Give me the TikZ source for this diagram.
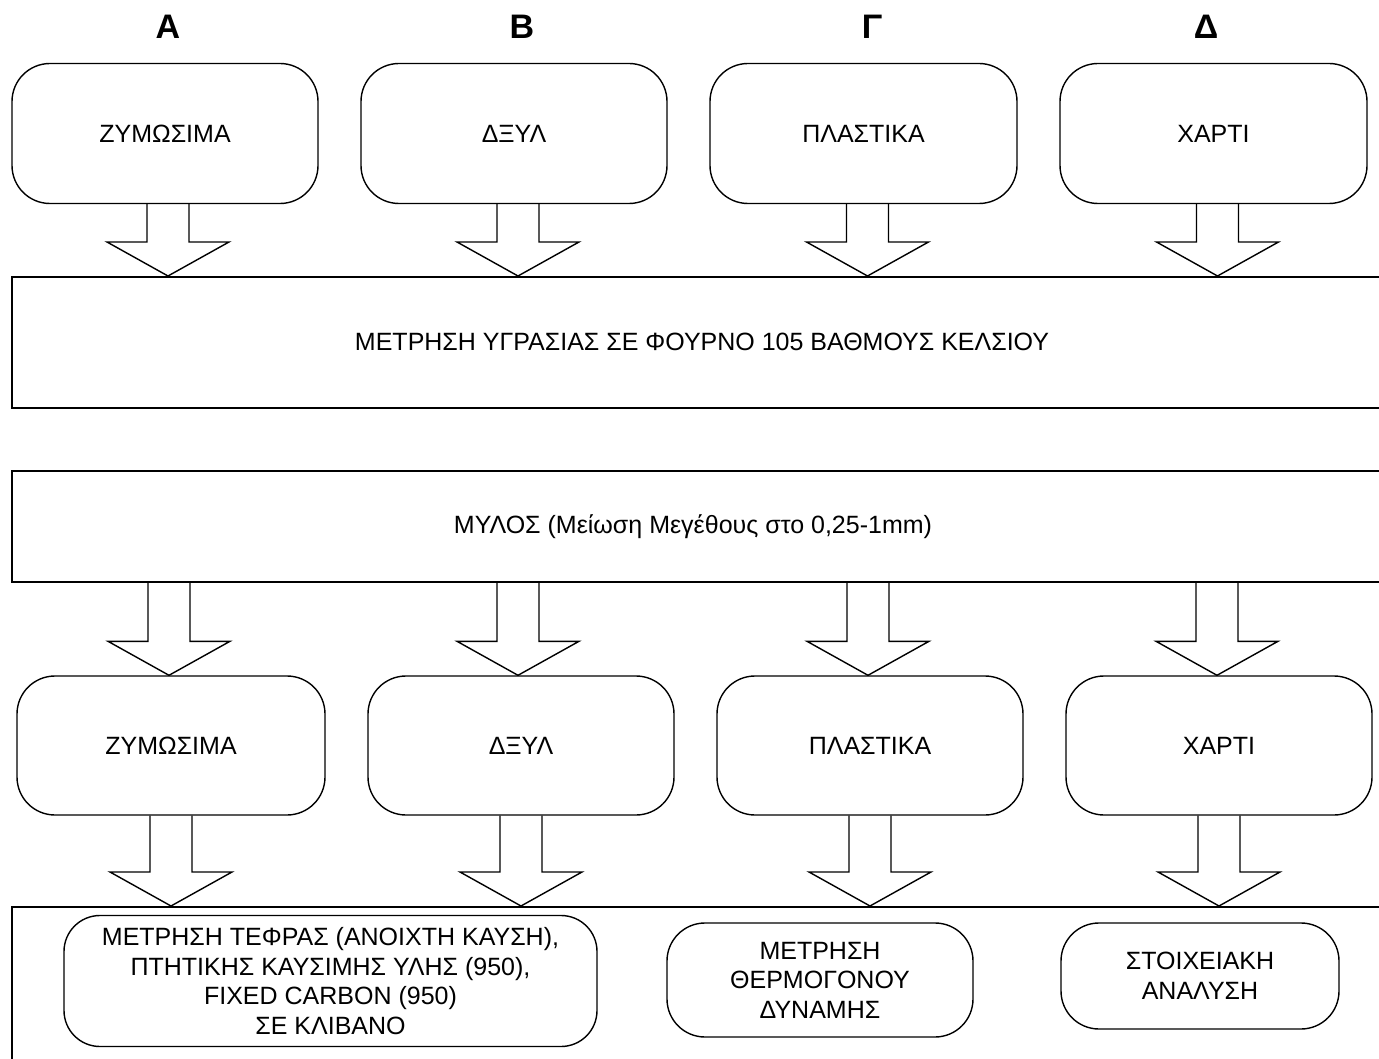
\documentclass[tikz,border=0pt]{standalone}
\usepackage{fontspec}
\setmainfont{Liberation Sans}
\usetikzlibrary{calc}
\newcommand\blockarr[2]{\draw[barr] let \p1=#1, \p2=#2 in (\x1-21pt,\y1) -- (\x1-21pt,\y2+34pt) -- (\x1-61pt,\y2+34pt) -- (\x1,\y2) -- (\x1+61pt,\y2+34pt) -- (\x1+21pt,\y2+34pt) -- (\x1+21pt,\y1);}
\begin{document}
\begin{tikzpicture}[x=1pt,y=-1pt,
  rbox/.style={draw, line width=1.4pt, rounded corners=38pt, align=center, inner sep=0pt, font=\fontsize{25}{29.5}\selectfont},
  wbox/.style={draw, line width=2pt, inner sep=0pt},
  lbl/.style={inner sep=0pt, font=\fontsize{25}{29.5}\selectfont},
  colhead/.style={inner sep=0pt, font=\fontsize{34}{36}\selectfont\bfseries},
  barr/.style={draw, line width=1.4pt, line join=miter}]
\useasboundingbox (0,0) rectangle (1379,1059);
\clip (0,0) rectangle (1379,1059);

% column headings
\node[colhead] (hA) at (168,27) {Α};
\node[colhead] (hB) at (522,27) {Β};
\node[colhead] (hG) at (872,27) {Γ};
\node[colhead] (hD) at (1206,27) {Δ};

% top row
\node[rbox, minimum width=306pt, minimum height=140pt] (t1) at (165,133.5) {ΖΥΜΩΣΙΜΑ};
\node[rbox, minimum width=306pt, minimum height=140pt] (t2) at (514,133.5) {ΔΞΥΛ};
\node[rbox, minimum width=307pt, minimum height=140pt] (t3) at (863.5,133.5) {ΠΛΑΣΤΙΚΑ};
\node[rbox, minimum width=307pt, minimum height=140pt] (t4) at (1213.5,133.5) {ΧΑΡΤΙ};

% wide boxes
\node[wbox, minimum width=1388pt, minimum height=131pt] (w1) at (706,342.5) {};
\node[lbl] (w1t) at (702,342) {ΜΕΤΡΗΣΗ ΥΓΡΑΣΙΑΣ ΣΕ ΦΟΥΡΝΟ 105 ΒΑΘΜΟΥΣ ΚΕΛΣΙΟΥ};
\node[wbox, minimum width=1388pt, minimum height=111pt] (w2) at (706,526.5) {};
\node[lbl] (w2t) at (693,527) {ΜΥΛΟΣ (Μείωση Μεγέθους στο 0,25-1mm)};

% second row
\node[rbox, minimum width=308pt, minimum height=139pt] (r1) at (171,745.5) {ΖΥΜΩΣΙΜΑ};
\node[rbox, minimum width=306pt, minimum height=139pt] (r2) at (521,745.5) {ΔΞΥΛ};
\node[rbox, minimum width=306pt, minimum height=139pt] (r3) at (870,745.5) {ΠΛΑΣΤΙΚΑ};
\node[rbox, minimum width=306pt, minimum height=139pt] (r4) at (1219,745.5) {ΧΑΡΤΙ};

% bottom box
\node[wbox, minimum width=1388pt, minimum height=193pt] (w3) at (706,1003.5) {};
\node[rbox, rounded corners=36pt, minimum width=533pt, minimum height=131pt] (b1) at (330.5,981) {ΜΕΤΡΗΣΗ ΤΕΦΡΑΣ (ΑΝΟΙΧΤΗ ΚΑΥΣΗ),\\ΠΤΗΤΙΚΗΣ ΚΑΥΣΙΜΗΣ ΥΛΗΣ (950),\\FIXED CARBON (950)\\ΣΕ ΚΛΙΒΑΝΟ};
\node[rbox, minimum width=306pt, minimum height=114pt] (b2) at (820,980) {ΜΕΤΡΗΣΗ\\ΘΕΡΜΟΓΟΝΟΥ\\ΔΥΝΑΜΗΣ};
\node[rbox, minimum width=278pt, minimum height=106pt] (b3) at (1200,976) {ΣΤΟΙΧΕΙΑΚΗ\\ΑΝΑΛΥΣΗ};

% block arrows: top row -> wide box 1
\blockarr{($(t1.south)+(3,0)$)}{(w1.north)}
\blockarr{($(t2.south)+(4,0)$)}{(w1.north)}
\blockarr{($(t3.south)+(4,0)$)}{(w1.north)}
\blockarr{($(t4.south)+(4,0)$)}{(w1.north)}
% wide box 2 -> second row
\blockarr{($(r1.north |- w2.south)+(-2,0)$)}{(r1.north)}
\blockarr{($(r2.north |- w2.south)+(-3,0)$)}{(r2.north)}
\blockarr{($(r3.north |- w2.south)+(-2,0)$)}{(r3.north)}
\blockarr{($(r4.north |- w2.south)+(-2,0)$)}{(r4.north)}
% second row -> bottom box
\blockarr{(r1.south)}{(w3.north)}
\blockarr{(r2.south)}{(w3.north)}
\blockarr{(r3.south)}{(w3.north)}
\blockarr{(r4.south)}{(w3.north)}
\end{tikzpicture}
\end{document}
